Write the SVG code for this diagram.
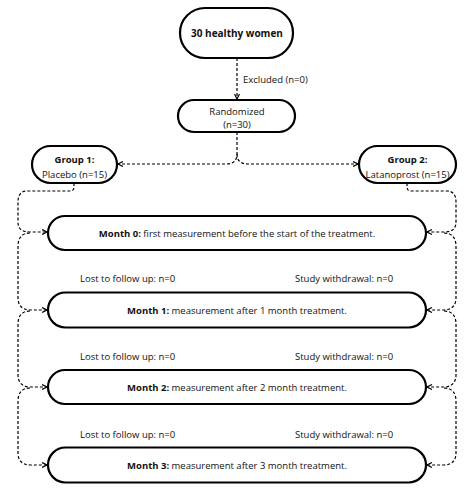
<svg xmlns="http://www.w3.org/2000/svg" width="474" height="500" viewBox="0 0 474 500">
<style>
.box{fill:#fff;stroke:#000;stroke-width:2.2}
.t{font-family:"Open Sans","Noto Sans",sans-serif;font-size:9.5px;fill:#111}
.b{font-weight:bold}
.c{text-anchor:middle}
.con{fill:none;stroke:#000;stroke-width:1.2;stroke-dasharray:3 2}
</style>
<defs>
<marker id="ah" viewBox="0 0 6 6" refX="5.5" refY="3" markerWidth="6" markerHeight="6" markerUnits="userSpaceOnUse" orient="auto">
<path d="M0.5,0.5 L5.5,3 L0.5,5.5" fill="none" stroke="#000" stroke-width="1.2"/>
</marker>
</defs>
<rect width="474" height="500" fill="#fff"/>
<g id="connectors">
<path class="con" d="M237,58 L237,99" marker-end="url(#ah)"/>
<path class="con" d="M237,132 L237,154 C237,161 233,164 226,164 L118,164" marker-end="url(#ah)"/>
<path class="con" d="M237,154 C237,161 241,164 248,164 L358,164" marker-end="url(#ah)"/>
<path class="con" d="M74,183 L74,187 Q74,191 70,191 L27,191 C21,191 18,195 18,202 L18,222 C18,229 22,232 30,232 L47,232" marker-end="url(#ah)"/>
<path class="con" d="M407,183 L407,187 Q407,191 411,191 L447,191 C453,191 456,195 456,202 L456,222 C456,229 452,232 444,232 L427,232" marker-end="url(#ah)"/>
<path class="con" d="M30,233 C22,233 18,238 18,246 L18,298 C18,305 22,310 30,310 L47,310" marker-end="url(#ah)"/>
<path class="con" d="M444,233 C452,233 456,238 456,246 L456,298 C456,305 452,310 444,310 L427,310" marker-end="url(#ah)"/>
<path class="con" d="M30,311 C22,311 18,316 18,324 L18,375 C18,382 22,387 30,387 L47,387" marker-end="url(#ah)"/>
<path class="con" d="M444,311 C452,311 456,316 456,324 L456,375 C456,382 452,387 444,387 L427,387" marker-end="url(#ah)"/>
<path class="con" d="M30,388 C22,388 18,393 18,401 L18,453 C18,460 22,465 30,465 L47,465" marker-end="url(#ah)"/>
<path class="con" d="M444,388 C452,388 456,393 456,401 L456,453 C456,460 452,465 444,465 L427,465" marker-end="url(#ah)"/>
</g>
<text class="t" x="243" y="83">Excluded (n=0)</text>
<g id="n-women">
<rect class="box" x="180" y="8" width="113" height="50" rx="25"/>
<text class="t b c" x="237" y="37" style="font-size:10px">30 healthy women</text>
</g>
<g id="n-random">
<rect class="box" x="178" y="100" width="117" height="32" rx="16"/>
<text class="t c" x="237" y="115">Randomized</text>
<text class="t c" x="237" y="128">(n=30)</text>
</g>
<g id="n-group1">
<rect class="box" x="32" y="146" width="85" height="37" rx="18.5"/>
<text class="t b c" x="74.5" y="163">Group 1:</text>
<text class="t c" x="74.5" y="178">Placebo (n=15)</text>
</g>
<g id="n-group2">
<rect class="box" x="359" y="146" width="97" height="37" rx="18.5"/>
<text class="t b c" x="407.5" y="163">Group 2:</text>
<text class="t c" x="407.5" y="178">Latanoprost (n=15)</text>
</g>
<g id="n-month0">
<rect class="box" x="48" y="216" width="378" height="34" rx="17"/>
<text class="t c" x="237" y="236.5"><tspan class="b">Month 0:</tspan> first measurement before the start of the treatment.</text>
</g>
<g id="labels1">
<text class="t" x="80" y="281.5">Lost to follow up: n=0</text>
<text class="t" x="295" y="281.5">Study withdrawal: n=0</text>
</g>
<g id="n-month1">
<rect class="box" x="48" y="292.5" width="378" height="35" rx="17.5"/>
<text class="t c" x="237" y="313.5"><tspan class="b">Month 1:</tspan> measurement after 1 month treatment.</text>
</g>
<g id="labels2">
<text class="t" x="80" y="360">Lost to follow up: n=0</text>
<text class="t" x="295" y="360">Study withdrawal: n=0</text>
</g>
<g id="n-month2">
<rect class="box" x="48" y="370" width="378" height="34" rx="17"/>
<text class="t c" x="237" y="390.5"><tspan class="b">Month 2:</tspan> measurement after 2 month treatment.</text>
</g>
<g id="labels3">
<text class="t" x="80" y="437.5">Lost to follow up: n=0</text>
<text class="t" x="295" y="437.5">Study withdrawal: n=0</text>
</g>
<g id="n-month3">
<rect class="box" x="48" y="447.5" width="378" height="35" rx="17.5"/>
<text class="t c" x="237" y="468.5"><tspan class="b">Month 3:</tspan> measurement after 3 month treatment.</text>
</g>
</svg>
